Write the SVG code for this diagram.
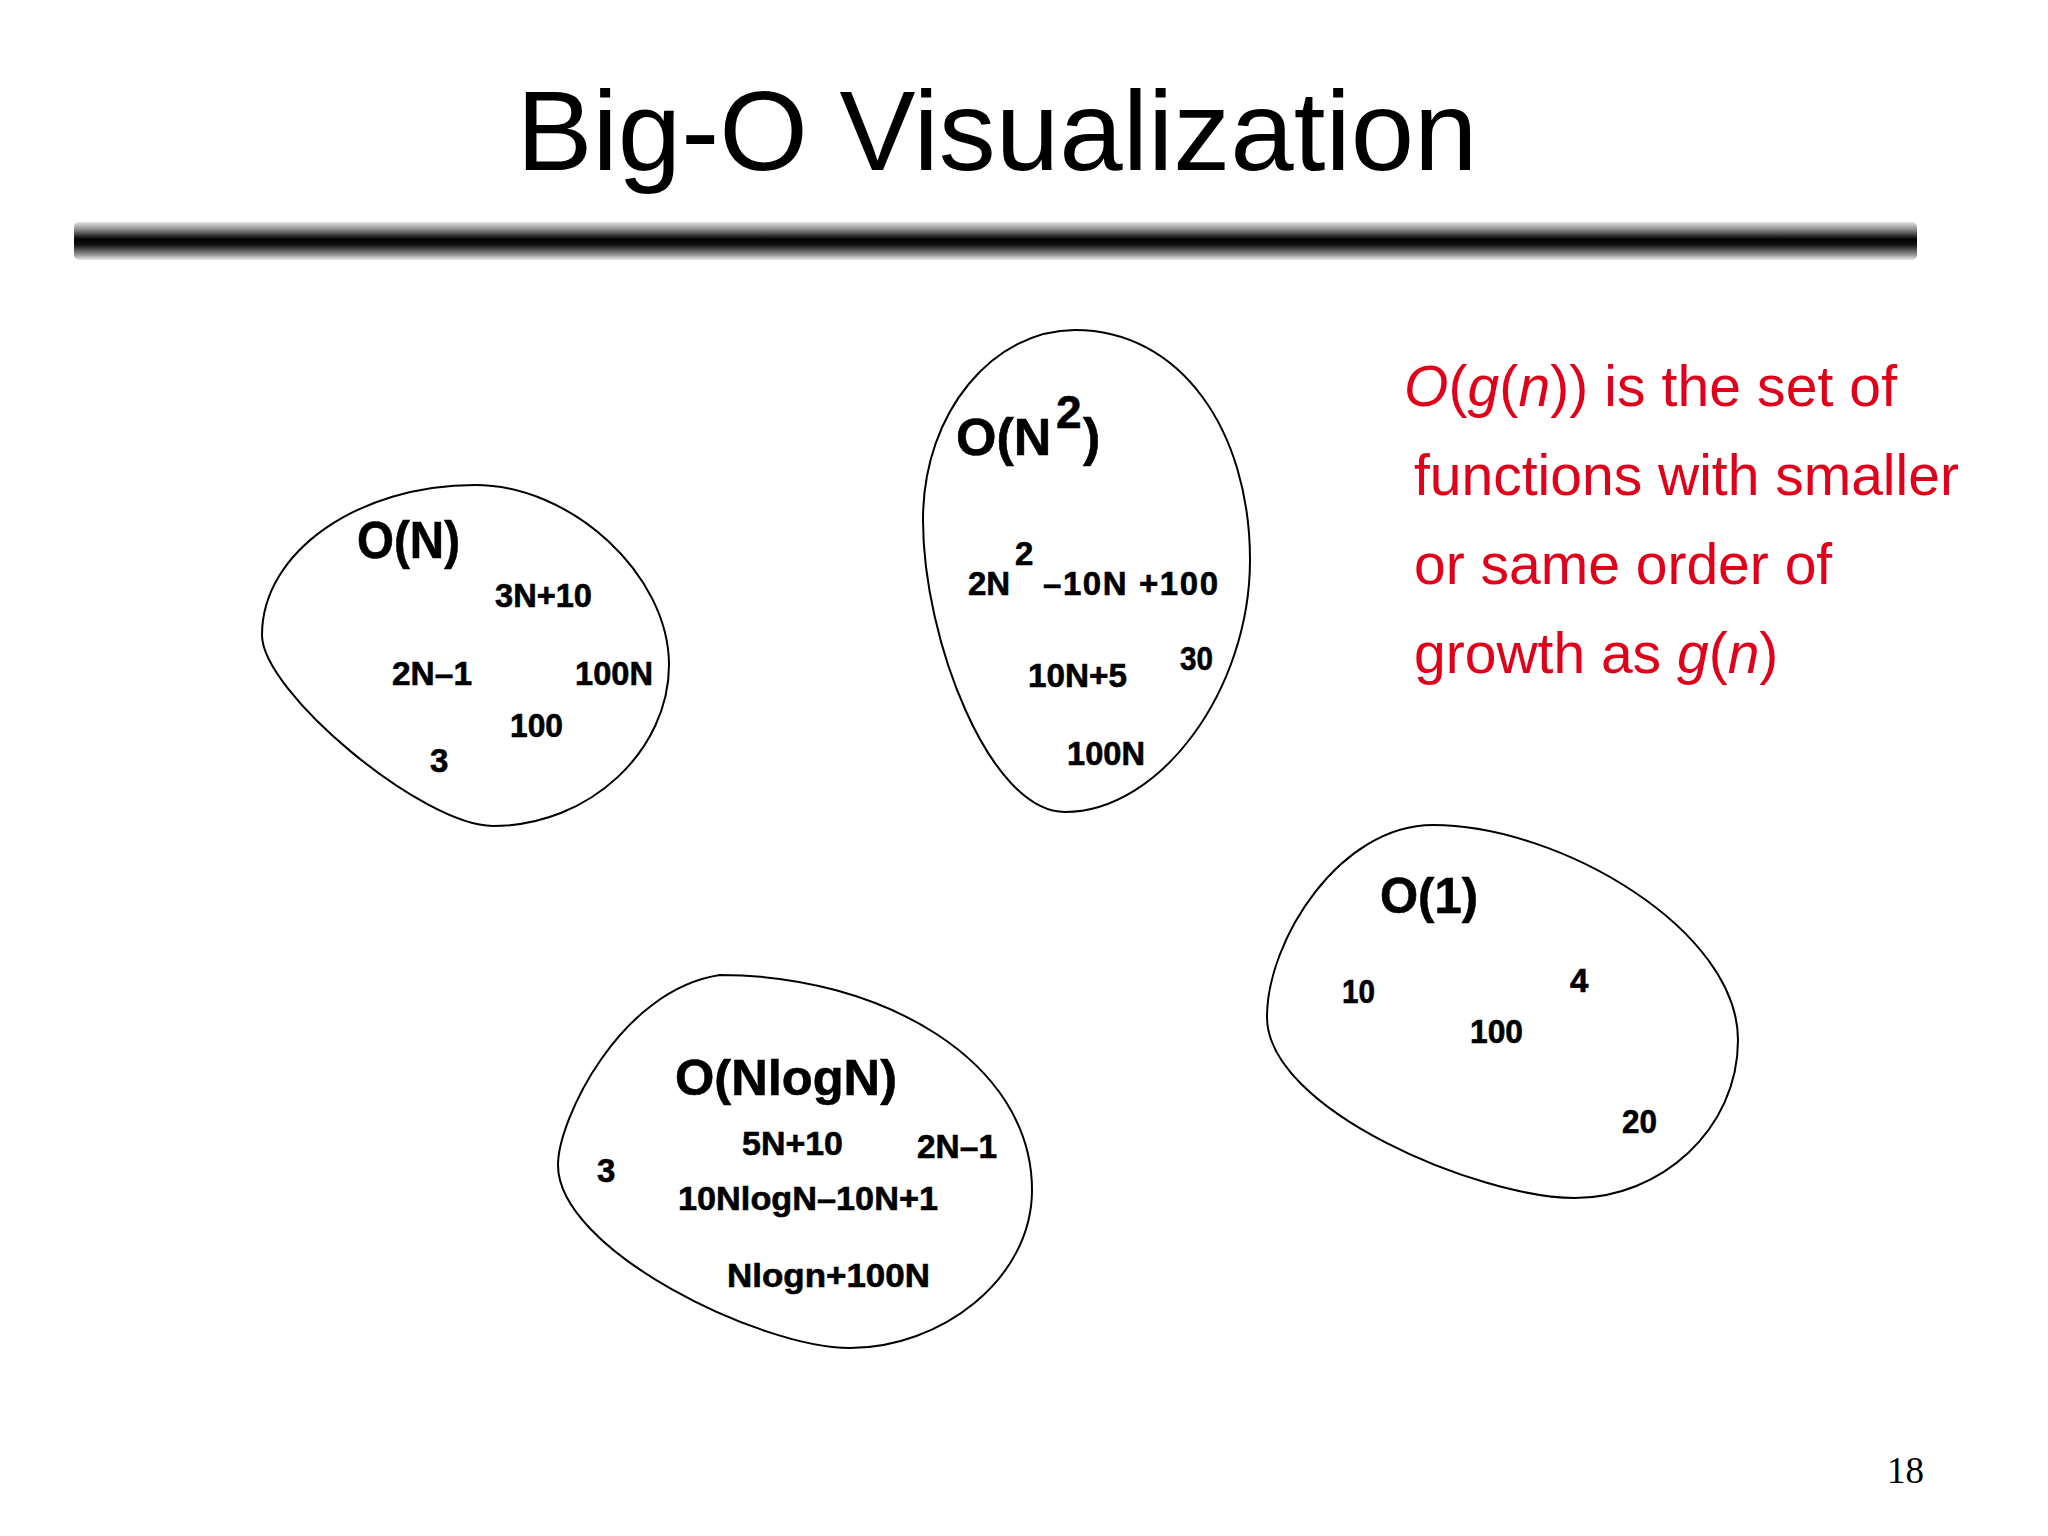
<svg xmlns="http://www.w3.org/2000/svg" width="2048" height="1536" viewBox="0 0 2048 1536">
  <defs>
    <linearGradient id="barGrad" x1="0" y1="0" x2="0" y2="1">
      <stop offset="0" stop-color="#e4e4e4"/>
      <stop offset="0.2" stop-color="#8a8a8a"/>
      <stop offset="0.45" stop-color="#000000"/>
      <stop offset="0.6" stop-color="#111111"/>
      <stop offset="0.85" stop-color="#8f8f8f"/>
      <stop offset="1" stop-color="#e8e8e8"/>
    </linearGradient>
  </defs>
  <style>
    .blob { fill: none; stroke: #000; stroke-width: 2; }
    .lbl { font-family: "Liberation Sans", Arial, sans-serif; font-weight: bold; fill: #000; stroke: #000; stroke-width: 0.6; }
    .big { font-size: 50px; }
    .sm { font-size: 33px; }
    .red { font-family: "Liberation Sans", Arial, sans-serif; font-size: 57px; fill: #e0001a; }
    .it { font-style: italic; }
  </style>
  <rect width="2048" height="1536" fill="#ffffff"/>

  <g id="title">
    <text x="997" y="170" text-anchor="middle" font-family="Liberation Sans, Arial, sans-serif" font-size="114" fill="#000">Big-O Visualization</text>
    <rect x="74" y="222" width="1843" height="38" rx="5" fill="url(#barGrad)"/>
  </g>

  <g id="connectors"></g>

  <g id="set-ON">
    <path class="blob" d="M475,485 C572,485 669,575 669,665 C669,750 590,826 493,826 C423,826 262,692 262,635 C262,552 358,485 475,485 Z"/>
    <text class="lbl" x="357" y="558" font-size="52" textLength="103" lengthAdjust="spacingAndGlyphs">O(N)</text>
    <text class="lbl sm" x="495" y="607" textLength="97" lengthAdjust="spacingAndGlyphs">3N+10</text>
    <text class="lbl sm" x="392" y="685" textLength="80" lengthAdjust="spacingAndGlyphs">2N–1</text>
    <text class="lbl sm" x="575" y="685" textLength="78" lengthAdjust="spacingAndGlyphs">100N</text>
    <text class="lbl sm" x="510" y="737" textLength="53" lengthAdjust="spacingAndGlyphs">100</text>
    <text class="lbl sm" x="430" y="772">3</text>
  </g>

  <g id="set-ON2">
    <path class="blob" d="M1075,330 C1180,330 1250,430 1250,560 C1250,690 1160,812 1065,812 C990,812 923,640 923,520 C923,410 995,330 1075,330 Z"/>
    <text class="lbl" x="956" y="455" font-size="52">O(N</text>
    <text class="lbl" x="1056" y="428" font-size="46">2</text>
    <text class="lbl" x="1083" y="455" font-size="52">)</text>
    <text class="lbl sm" x="968" y="595">2N</text>
    <text class="lbl sm" x="1015" y="565">2</text>
    <text class="lbl sm" x="1043" y="595" textLength="175">–10N +100</text>
    <text class="lbl sm" x="1028" y="687" textLength="99" lengthAdjust="spacingAndGlyphs">10N+5</text>
    <text class="lbl sm" x="1180" y="670" textLength="33" lengthAdjust="spacingAndGlyphs">30</text>
    <text class="lbl sm" x="1067" y="765" textLength="78" lengthAdjust="spacingAndGlyphs">100N</text>
  </g>

  <g id="set-ONlogN">
    <path class="blob" d="M720,975 C880,975 1032,1060 1032,1190 C1032,1280 940,1348 850,1348 C760,1348 558,1250 558,1165 C558,1120 620,990 720,975 Z"/>
    <text class="lbl big" x="675" y="1095" textLength="222" lengthAdjust="spacingAndGlyphs">O(NlogN)</text>
    <text class="lbl sm" x="742" y="1155" textLength="101" lengthAdjust="spacingAndGlyphs">5N+10</text>
    <text class="lbl sm" x="917" y="1158" textLength="80" lengthAdjust="spacingAndGlyphs">2N–1</text>
    <text class="lbl sm" x="597" y="1182">3</text>
    <text class="lbl sm" x="678" y="1210" textLength="260" lengthAdjust="spacingAndGlyphs">10NlogN–10N+1</text>
    <text class="lbl sm" x="727" y="1287" textLength="203" lengthAdjust="spacingAndGlyphs">Nlogn+100N</text>
  </g>

  <g id="set-O1">
    <path class="blob" d="M1433,825 C1560,825 1738,930 1738,1040 C1738,1130 1660,1198 1575,1198 C1480,1198 1267,1110 1267,1017 C1267,940 1340,825 1433,825 Z"/>
    <text class="lbl big" x="1380" y="913" textLength="98" lengthAdjust="spacingAndGlyphs">O(1)</text>
    <text class="lbl sm" x="1342" y="1003" textLength="33" lengthAdjust="spacingAndGlyphs">10</text>
    <text class="lbl sm" x="1570" y="992">4</text>
    <text class="lbl sm" x="1470" y="1043" textLength="53" lengthAdjust="spacingAndGlyphs">100</text>
    <text class="lbl sm" x="1622" y="1133" textLength="35" lengthAdjust="spacingAndGlyphs">20</text>
  </g>

  <g id="definition">
    <text class="red" x="1404" y="406" textLength="493"><tspan class="it">O</tspan>(<tspan class="it">g</tspan>(<tspan class="it">n</tspan>)) is the set of</text>
    <text class="red" x="1414" y="495">functions with smaller</text>
    <text class="red" x="1414" y="584">or same order of</text>
    <text class="red" x="1414" y="673">growth as <tspan class="it">g</tspan>(<tspan class="it">n</tspan>)</text>
  </g>

  <g id="page-number">
    <text x="1887" y="1483" font-family="Liberation Serif, Times New Roman, serif" font-size="37" fill="#000">18</text>
  </g>
</svg>
